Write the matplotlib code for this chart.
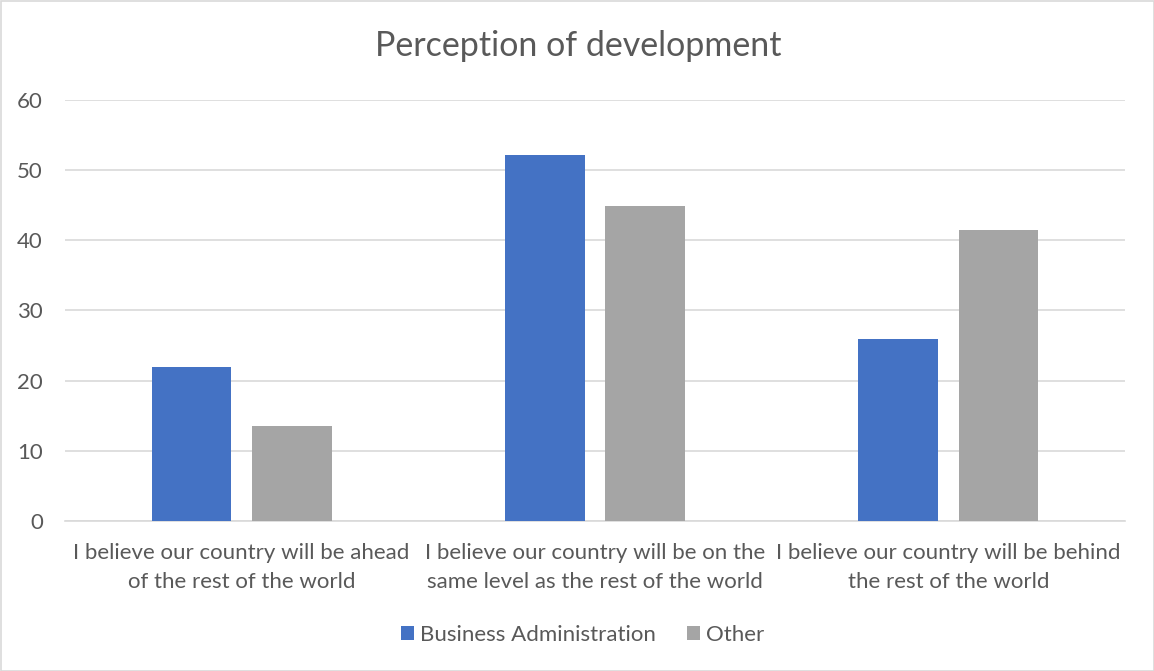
import matplotlib
matplotlib.use("Agg")
import matplotlib.pyplot as plt
import numpy as np
from matplotlib.patches import Rectangle

categories = [
    "I believe our country will be ahead\nof the rest of the world",
    "I believe our country will be on the\nsame level as the rest of the world",
    "I believe our country will be behind\nthe rest of the world",
]
series_names = ["Business Administration", "Other"]
business_admin = [21.9, 52.1, 25.9]
other = [13.6, 44.9, 41.5]
yticks = [0, 10, 20, 30, 40, 50, 60]

plt.rcParams['font.family'] = ['Lato', 'DejaVu Sans']
txt = '#595959'
grid = '#d9d9d9'
fs = 16

fig = plt.figure(figsize=(11.54, 6.71), dpi=100)
ax = fig.add_axes([65/1154, 1-521/671, (1125-65)/1154, (521-100)/671])

x = np.arange(len(categories))
w = 0.226
off = 0.142
ax.bar(x - off, business_admin, w, color='#4472C4', label=series_names[0], zorder=3)
ax.bar(x + off, other, w, color='#A5A5A5', label=series_names[1], zorder=3)

ax.set_xlim(-0.5, 2.5)
ax.set_ylim(0, 60)
ax.set_yticks(yticks)
ax.set_yticklabels([str(t) for t in yticks], fontsize=fs, color=txt)
ax.set_xticks(x)
ax.set_xticklabels(categories, fontsize=fs, color=txt, linespacing=1.55)
ax.tick_params(axis='both', length=0)
ax.tick_params(axis='y', pad=16)
ax.tick_params(axis='x', pad=16)
ax.yaxis.grid(True, color=grid, linewidth=1.2, zorder=0)
for s in ['top', 'right', 'left']:
    ax.spines[s].set_visible(False)
ax.spines['bottom'].set_color(grid)
ax.spines['bottom'].set_linewidth(1.2)

fig.text(578/1154, 1-46/671, "Perception of development", ha='center', va='center',
         fontsize=24.5, color=txt)

leg = fig.legend(loc='center', bbox_to_anchor=(583/1154, 1-635/671), ncol=2, frameon=False,
                 fontsize=fs, handlelength=0.55, handleheight=0.55, handletextpad=0.3,
                 columnspacing=1.4)
for t in leg.get_texts():
    t.set_color(txt)

fig.patches.append(Rectangle((0.5/1154, 0.5/671), 1-1/1154, 1-1/671, transform=fig.transFigure,
                             fill=False, edgecolor=grid, linewidth=1.2))

fig.savefig("out.png", dpi=100, facecolor='white')
